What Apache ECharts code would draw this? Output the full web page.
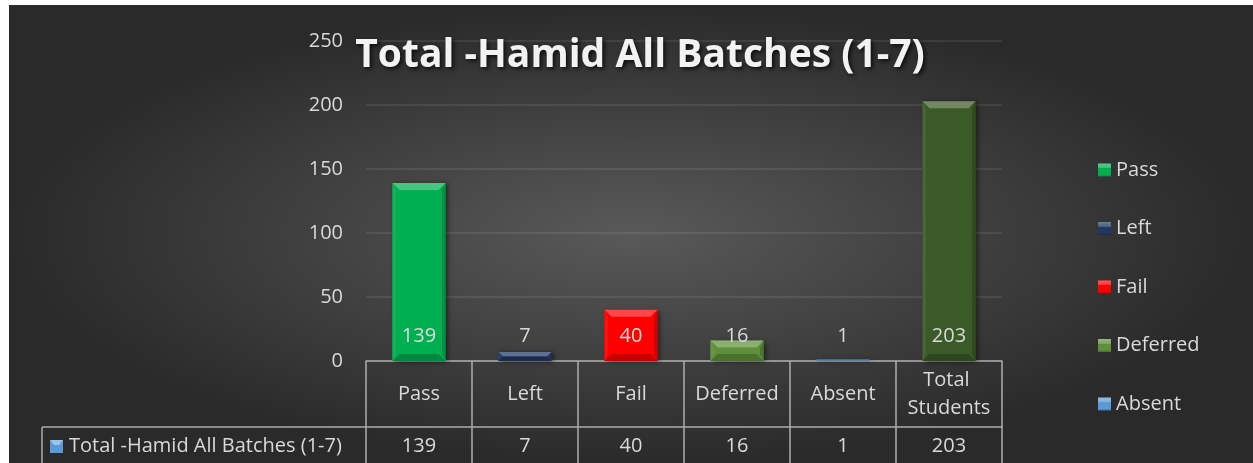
<!DOCTYPE html>
<html>
<head>
<meta charset="utf-8">
<script src="https://cdn.jsdelivr.net/npm/echarts@6/dist/echarts.min.js"></script>
<style>
  html, body { margin: 0; padding: 0; background: #ffffff; }
  #bg {
    position: absolute; left: 9px; top: 5px; width: 1244px; height: 458px;
    background: radial-gradient(ellipse closest-side at 50% 50%, #595959 0%, #2a2a2a 100%), #262626;
  }
  #chart { position: absolute; left: 0; top: 0; width: 1253px; height: 463px; }
</style>
</head>
<body>
<div id="bg"></div>
<div id="chart"></div>
<script>
// Results per outcome
const categories = ['Pass', 'Left', 'Fail', 'Deferred', 'Absent', 'Total Students'];
const values = [139, 7, 40, 16, 1, 203];
const legendNames = ['Pass', 'Left', 'Fail', 'Deferred', 'Absent'];
const seriesTitle = 'Total -Hamid All Batches (1-7)';
const yMin = 0, yMax = 250, yStep = 50;

// Fill colour for each outcome
const barColors = ['#00B050', '#203864', '#FF0000', '#5E8F3A', '#5B9BD5', '#3A5A27'];

const FONT = '"Open Sans", "Noto Sans", sans-serif';
const TEXT = '#D9D9D9';
const RULE = '#ADADAD';

// Layout
const gridLeft = 366, gridRight = 251, gridTop = 41, gridBottom = 102;
const headerRow = 66;
const H = 463;
const axisY = H - gridBottom;
const valueRowY = axisY + headerRow;

function shade(hex, amt) {
  const n = parseInt(hex.slice(1), 16);
  let r = (n >> 16) & 255, g = (n >> 8) & 255, b = n & 255;
  const f = c => amt >= 0 ? Math.round(c + (255 - c) * amt) : Math.round(c * (1 + amt));
  r = f(r); g = f(g); b = f(b);
  return 'rgb(' + r + ',' + g + ',' + b + ')';
}

// Small bevelled swatch colour for legend keys
function swatch(hex) {
  return {
    type: 'linear', x: 0, y: 0, x2: 0, y2: 1,
    colorStops: [
      { offset: 0, color: shade(hex, 0.35) },
      { offset: 0.35, color: shade(hex, 0.2) },
      { offset: 0.36, color: hex },
      { offset: 0.85, color: hex },
      { offset: 1, color: shade(hex, -0.25) }
    ]
  };
}

// Bevelled column plus its value label
function renderBar(params, api) {
  const idx = api.value(0);
  const v = api.value(1);
  const top = api.coord([idx, v]);
  const base = api.coord([idx, 0]);
  const band = api.size([1, 0])[0];
  const w = band * 0.5;
  const x0 = top[0] - w / 2, x1 = x0 + w;
  const y0 = top[1], y1 = base[1];
  const h = Math.max(y1 - y0, 0);
  const b = Math.min(7, h / 2);
  const c = api.visual('color');
  return {
    type: 'group',
    children: [
      { type: 'rect', shape: { x: x0, y: y0, width: w, height: h },
        style: { fill: c, shadowBlur: 5, shadowColor: 'rgba(0,0,0,0.55)', shadowOffsetX: 2, shadowOffsetY: 1 } },
      { type: 'polygon', shape: { points: [[x0, y0], [x1, y0], [x1 - b, y0 + b], [x0 + b, y0 + b]] },
        style: { fill: shade(c, 0.28) } },
      { type: 'polygon', shape: { points: [[x0, y0], [x0 + b * 0.5, y0 + b], [x0 + b * 0.5, y1 - b], [x0, y1]] },
        style: { fill: shade(c, 0.06) } },
      { type: 'polygon', shape: { points: [[x1, y0], [x1 - b * 0.5, y0 + b], [x1 - b * 0.5, y1 - b], [x1, y1]] },
        style: { fill: shade(c, -0.18) } },
      { type: 'polygon', shape: { points: [[x0, y1], [x0 + b, y1 - b], [x1 - b, y1 - b], [x1, y1]] },
        style: { fill: shade(c, -0.22) } },
      { type: 'text', z2: 20,
        style: { text: String(v), x: top[0], y: y1 - 25, align: 'center', verticalAlign: 'middle',
                 fill: TEXT, fontSize: 20, fontFamily: FONT } }
    ]
  };
}

const series = categories.map((name, i) => ({
  name: name,
  type: 'custom',
  renderItem: renderBar,
  itemStyle: { color: barColors[i] },
  encode: { x: 0, y: 1 },
  data: [[i, values[i]]],
  z: 5
}));

const chart = echarts.init(document.getElementById('chart'), null, { renderer: 'canvas' });
chart.setOption({
  animation: false,
  textStyle: { fontFamily: FONT },
  title: {
    text: seriesTitle,
    left: 635, top: 31, textAlign: 'center',
    textStyle: {
      color: '#F2F2F2', fontSize: 39, fontWeight: 'bold', fontFamily: FONT,
      textShadowColor: 'rgba(0,0,0,0.75)', textShadowBlur: 4, textShadowOffsetX: 2, textShadowOffsetY: 2
    },
    z: 10
  },
  legend: {
    data: legendNames.map(n => ({ name: n, itemStyle: { color: swatch(barColors[categories.indexOf(n)]) } })),
    orient: 'vertical',
    left: 1093, top: 153,
    icon: 'rect', itemWidth: 13, itemHeight: 13, itemGap: 34.5,
    textStyle: { color: TEXT, fontSize: 20, fontFamily: FONT, lineHeight: 24, padding: [0, 0, 0, 0] },
    selectedMode: false
  },
  grid: { left: gridLeft, right: gridRight, top: gridTop, bottom: gridBottom, containLabel: false },
  xAxis: [
    {
      type: 'category', data: categories, boundaryGap: true,
      axisLine: { show: true, lineStyle: { color: RULE, width: 1.5 } },
      axisTick: { show: true, interval: 0, length: headerRow, lineStyle: { color: RULE, width: 1.5 } },
      axisLabel: { interval: 0, color: TEXT, fontSize: 20, fontFamily: FONT, margin: 33,
                   verticalAlign: 'middle', width: 100, overflow: 'break', lineHeight: 28 }
    },
    {
      type: 'category', data: categories, boundaryGap: true, position: 'bottom', offset: headerRow,
      axisLine: { show: true, lineStyle: { color: RULE, width: 1.5 } },
      axisTick: { show: true, interval: 0, length: 40, lineStyle: { color: RULE, width: 1.5 } },
      axisLabel: { interval: 0, color: TEXT, fontSize: 20, fontFamily: FONT, margin: 19,
                   verticalAlign: 'middle', formatter: (val, i) => String(values[i]) }
    }
  ],
  yAxis: {
    type: 'value', min: yMin, max: yMax, interval: yStep,
    axisLine: { show: false }, axisTick: { show: false },
    axisLabel: { color: TEXT, fontSize: 20, fontFamily: FONT, margin: 23 },
    splitLine: { lineStyle: { color: 'rgba(255,255,255,0.11)', width: 1.5 } }
  },
  graphic: [
    { type: 'line', shape: { x1: 42, y1: valueRowY, x2: gridLeft, y2: valueRowY },
      style: { stroke: RULE, lineWidth: 1.5 } },
    { type: 'line', shape: { x1: 42, y1: valueRowY, x2: 42, y2: H },
      style: { stroke: RULE, lineWidth: 1.5 } },
    { type: 'rect', shape: { x: 50, y: valueRowY + 13, width: 13, height: 13 },
      style: { fill: '#5B9BD5' } },
    { type: 'polygon', shape: { points: [[50, valueRowY + 13], [63, valueRowY + 13], [59, valueRowY + 18], [54, valueRowY + 18]] },
      style: { fill: '#9CC3E8' } },
    { type: 'text', x: 69, y: valueRowY + 19,
      style: { text: seriesTitle, fill: TEXT, fontSize: 20, fontFamily: FONT, verticalAlign: 'middle' } }
  ],
  series: series
});
</script>
</body>
</html>
